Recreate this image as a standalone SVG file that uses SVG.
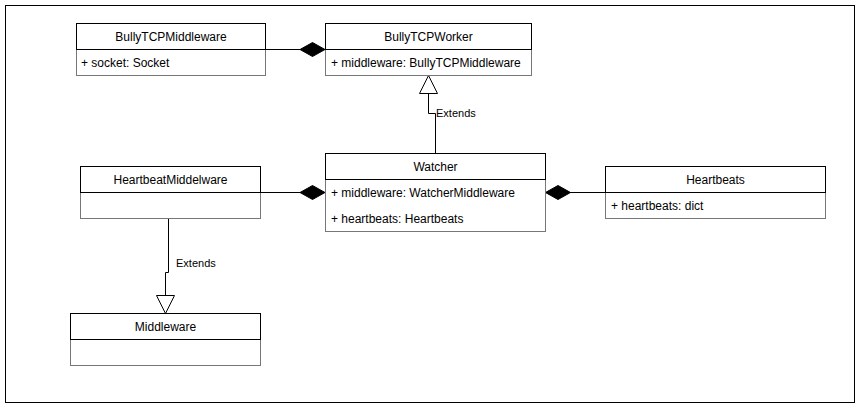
<svg xmlns="http://www.w3.org/2000/svg" width="861" height="409" viewBox="0 0 861 409">
<defs>
<style>
.hd{fill:#fff;stroke:#000;stroke-width:1}
.bd{fill:#fff;stroke:#777;stroke-width:1}
.t{font-family:"Liberation Sans",Arial,sans-serif;font-size:12px;fill:#000}
.c{text-anchor:middle;dominant-baseline:central}
.a{dominant-baseline:central}
.lb{font-family:"Liberation Sans",Arial,sans-serif;font-size:11px;fill:#000;dominant-baseline:central}
.ln{fill:none;stroke:#000;stroke-width:1}
.dm{fill:#000;stroke:#000;stroke-width:1}
.tr{fill:#fff;stroke:#000;stroke-width:1}
</style>
</defs>
<rect x="0" y="0" width="861" height="409" fill="#fff"/>
<rect x="5.5" y="5.5" width="849" height="397" fill="none" stroke="#000"/>

<g id="connectors">
<path class="ln" d="M265.5 49.5H300"/>
<path class="dm" d="M300 49.5L312.5 42.5L325 49.5L312.5 56.5Z"/>
<path class="ln" d="M435.5 153V113.5H428.5V93.5"/>
<path class="tr" d="M428.5 75.5L437.5 93.5H419.5Z"/>
<text class="lb" x="436" y="113">Extends</text>
<path class="ln" d="M260.5 192.5H300"/>
<path class="dm" d="M300 192.5L312.5 185.5L325 192.5L312.5 199.5Z"/>
<path class="ln" d="M605 192.5H570"/>
<path class="dm" d="M545.5 192.5L558 185.5L570.5 192.5L558 199.5Z"/>
<path class="ln" d="M168.5 218.5V272.5H165.5V295.5"/>
<path class="tr" d="M165.5 313.5L174.5 295.5H156.5Z"/>
<text class="lb" x="176" y="263">Extends</text>
</g>

<g id="BullyTCPMiddleware">
<rect class="bd" x="76.5" y="49.5" width="189" height="26"/>
<rect class="hd" x="76.5" y="23.5" width="189" height="26"/>
<text class="t c" x="171" y="36.5">BullyTCPMiddleware</text>
<text class="t a" x="81" y="62.5">+ socket: Socket</text>
</g>

<g id="BullyTCPWorker">
<rect class="bd" x="325.5" y="49.5" width="206" height="26"/>
<rect class="hd" x="325.5" y="23.5" width="206" height="26"/>
<text class="t c" x="428.5" y="36.5">BullyTCPWorker</text>
<text class="t a" x="331" y="62.5">+ middleware: BullyTCPMiddleware</text>
</g>

<g id="HeartbeatMiddelware">
<rect class="bd" x="80.5" y="192.5" width="180" height="26"/>
<rect class="hd" x="80.5" y="166.5" width="180" height="26"/>
<text class="t c" x="170.5" y="179.5">HeartbeatMiddelware</text>
</g>

<g id="Watcher">
<rect class="bd" x="325.5" y="179.5" width="220" height="52"/>
<rect class="hd" x="325.5" y="153.5" width="220" height="26"/>
<text class="t c" x="435.5" y="166.5">Watcher</text>
<text class="t a" x="331" y="192.5">+ middleware: WatcherMiddleware</text>
<text class="t a" x="331" y="218.5">+ heartbeats: Heartbeats</text>
</g>

<g id="Heartbeats">
<rect class="bd" x="605.5" y="192.5" width="220" height="26"/>
<rect class="hd" x="605.5" y="166.5" width="220" height="26"/>
<text class="t c" x="715.5" y="179.5">Heartbeats</text>
<text class="t a" x="611" y="205.5">+ heartbeats: dict</text>
</g>

<g id="Middleware">
<rect class="bd" x="70.5" y="339.5" width="190" height="26"/>
<rect class="hd" x="70.5" y="313.5" width="190" height="26"/>
<text class="t c" x="165.5" y="326.5">Middleware</text>
</g>
</svg>
